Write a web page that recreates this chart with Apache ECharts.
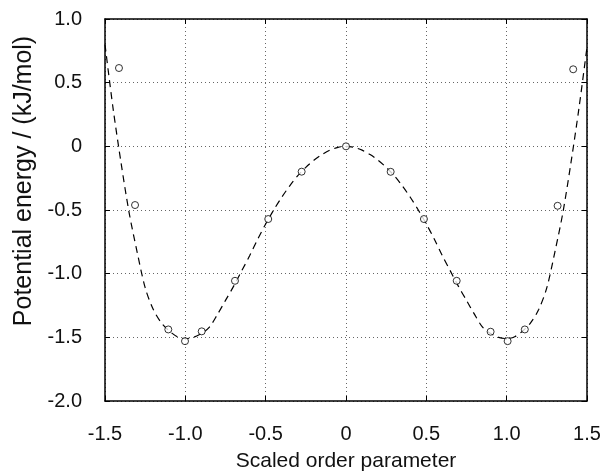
<!DOCTYPE html>
<html>
<head>
<meta charset="utf-8">
<script src="https://cdn.jsdelivr.net/npm/echarts@6/dist/echarts.min.js"></script>
<style>html,body{margin:0;padding:0;background:#fff}#c{width:613px;height:472px}</style>
</head>
<body>
<div id="c"></div>
<script>
// Fitted dashed curve
var curveX = [-1.5,-1.45,-1.4,-1.35,-1.3,-1.25,-1.2,-1.15,-1.1,-1.05,-1.0,-0.95,-0.9,-0.85,-0.8,-0.75,-0.7,-0.65,-0.6,-0.55,-0.5,-0.45,-0.4,-0.35,-0.3,-0.25,-0.2,-0.15,-0.1,-0.05,0,
              0.05,0.1,0.15,0.2,0.25,0.3,0.35,0.4,0.45,0.5,0.55,0.6,0.65,0.7,0.75,0.8,0.85,0.9,0.95,1.0,1.05,1.1,1.15,1.2,1.25,1.3,1.35,1.4,1.45,1.5];
var curveY = [0.80,0.30,-0.13,-0.52,-0.83,-1.11,-1.28,-1.385,-1.45,-1.495,-1.51,-1.50,-1.47,-1.42,-1.32,-1.21,-1.10,-0.98,-0.86,-0.73,-0.61,-0.50,-0.40,-0.31,-0.23,-0.165,-0.11,-0.065,-0.03,-0.008,0,
              -0.008,-0.03,-0.065,-0.11,-0.165,-0.23,-0.31,-0.40,-0.50,-0.61,-0.73,-0.86,-0.98,-1.10,-1.21,-1.32,-1.42,-1.47,-1.50,-1.51,-1.495,-1.45,-1.385,-1.28,-1.11,-0.83,-0.52,-0.13,0.30,0.78];
// Data points (open circles)
var pointX = [-1.413,-1.313,-1.106,-1.002,-0.898,-0.691,-0.484,-0.276,0,0.278,0.485,0.689,0.900,1.006,1.113,1.317,1.414];
var pointY = [0.615,-0.461,-1.438,-1.53,-1.453,-1.056,-0.571,-0.199,0,-0.200,-0.571,-1.056,-1.456,-1.53,-1.438,-0.467,0.605];
var xTicks = [-1.5,-1.0,-0.5,0,0.5,1.0,1.5];
var yTicks = [-2.0,-1.5,-1.0,-0.5,0,0.5,1.0];

var FONT = 'Liberation Sans';
function fmt(v){ return Math.abs(v) < 1e-9 ? '0' : v.toFixed(1); }
var zip = function(a,b){ return a.map(function(v,i){ return [v,b[i]]; }); };

var chart = echarts.init(document.getElementById('c'), null, {renderer:'canvas'});
var axisBase = {
  type:'value', interval:0.5,
  axisLine:{show:true, onZero:false, lineStyle:{color:'#000', width:1.5}},
  axisTick:{show:true, inside:true, length:5, lineStyle:{color:'#000', width:1}},
  splitLine:{show:false}
};
chart.setOption({
  backgroundColor:'#fff',
  animation:false,
  grid:{left:105, right:26, top:19, bottom:71, containLabel:false, outerBoundsMode:'none'},
  xAxis:[
    Object.assign({}, axisBase, {min:xTicks[0], max:xTicks[xTicks.length-1], position:'bottom',
      name:'Scaled order parameter', nameLocation:'middle', nameGap:50,
      nameTextStyle:{fontFamily:FONT, fontSize:21, color:'#111'},
      axisLabel:{formatter:fmt, margin:23, fontFamily:FONT, fontSize:20, color:'#111'},
      splitLine:{show:true, lineStyle:{color:'#666', type:[1,3], width:1}}}),
    Object.assign({}, axisBase, {min:xTicks[0], max:xTicks[xTicks.length-1], position:'top', axisLabel:{show:false}})
  ],
  yAxis:[
    Object.assign({}, axisBase, {min:yTicks[0], max:yTicks[yTicks.length-1], position:'left',
      name:'Potential energy / (kJ/mol)', nameLocation:'middle', nameGap:63,
      nameTextStyle:{fontFamily:FONT, fontSize:25, color:'#111', padding:[0,0,0,58]},
      axisLabel:{formatter:fmt, margin:23, fontFamily:FONT, fontSize:20, color:'#111'},
      splitLine:{show:true, lineStyle:{color:'#666', type:[1,3], width:1}}}),
    Object.assign({}, axisBase, {min:yTicks[0], max:yTicks[yTicks.length-1], position:'right', axisLabel:{show:false}})
  ],
  series:[
    {type:'line', data:zip(curveX, curveY), smooth:0.3, showSymbol:false, symbol:'none',
     lineStyle:{color:'#000', width:1.2, type:[7,5]}, z:2},
    {type:'scatter', data:zip(pointX, pointY), symbol:'circle', symbolSize:7,
     itemStyle:{color:'#fff', borderColor:'#000', borderWidth:1}, z:3}
  ]
});
</script>
</body>
</html>
